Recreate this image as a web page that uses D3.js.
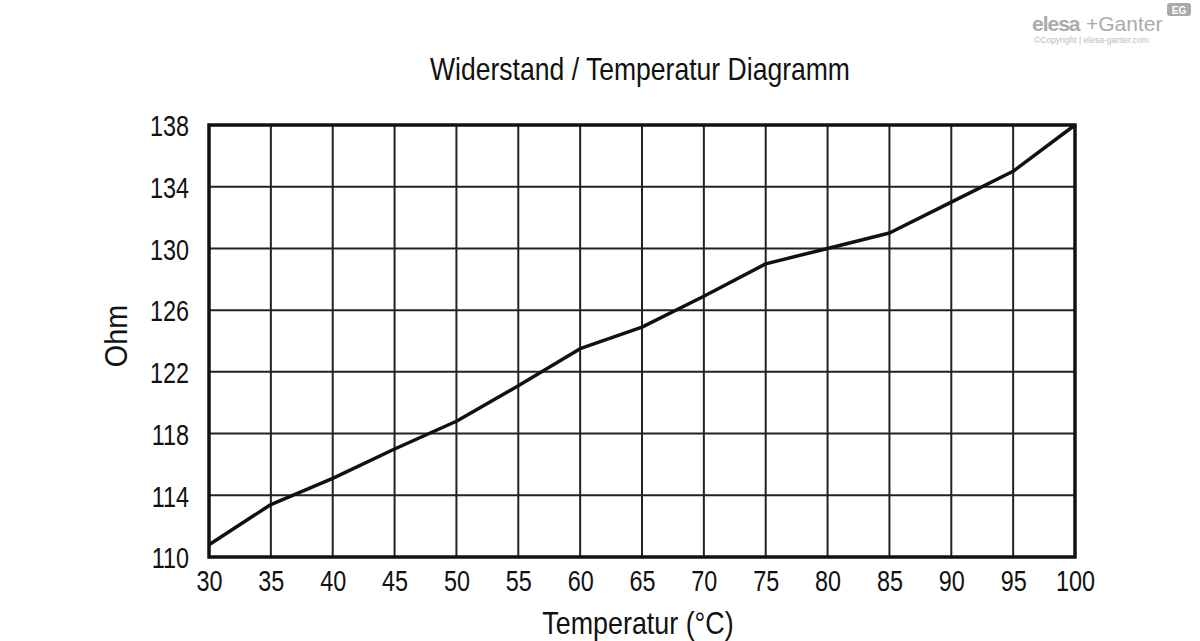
<!DOCTYPE html>
<html><head><meta charset="utf-8">
<script src="https://cdn.jsdelivr.net/npm/d3@7"></script>
<style>body{margin:0;background:#fff}svg{display:block}</style>
</head><body>
<script>
const temps = [30,35,40,45,50,55,60,65,70,75,80,85,90,95,100];
const ohms = [110.8,113.4,115.1,117.0,118.8,121.1,123.5,124.9,126.9,129.0,130.0,131.0,133.0,135.0,138.0];
const xTicks = [30,35,40,45,50,55,60,65,70,75,80,85,90,95,100];
const yTicks = [110,114,118,122,126,130,134,138];
const title = "Widerstand / Temperatur Diagramm";
const xTitle = "Temperatur (°C)";
const yTitle = "Ohm";

const W=1200,H=641;
const F = "'Liberation Sans Narrow','Arial Narrow','Liberation Sans',sans-serif";
const S = 0.78; // horizontal condensing for tick labels
const svg = d3.select("body").append("svg").attr("width",W).attr("height",H);
const x = d3.scaleLinear().domain([30,100]).range([209,1075]);
const y = d3.scaleLinear().domain([110,138]).range([557,125]);

// grid
svg.append("g").selectAll("line").data(xTicks).join("line")
 .attr("x1",d=>x(d)).attr("x2",d=>x(d)).attr("y1",y(138)).attr("y2",y(110))
 .attr("stroke","#222").attr("stroke-width",2);
svg.append("g").selectAll("line").data(yTicks).join("line")
 .attr("y1",d=>y(d)).attr("y2",d=>y(d)).attr("x1",x(30)).attr("x2",x(100))
 .attr("stroke","#222").attr("stroke-width",2);
// frame
svg.append("rect").attr("x",x(30)).attr("y",y(138)).attr("width",x(100)-x(30)).attr("height",y(110)-y(138))
 .attr("fill","none").attr("stroke","#111").attr("stroke-width",3.5);

// axes labels
const xa = svg.append("g").attr("transform",`translate(0,${y(110)})`).call(d3.axisBottom(x).tickValues(xTicks).tickSize(0).tickPadding(0));
xa.select(".domain").remove();
xa.selectAll("text").attr("font-family",F).attr("font-size",30).attr("fill","#111").attr("dy",null).attr("y",34)
  .attr("transform",`scale(${S},1)`);
const ya = svg.append("g").attr("transform",`translate(${x(30)},0)`).call(d3.axisLeft(y).tickValues(yTicks).tickSize(0).tickPadding(0));
ya.select(".domain").remove();
ya.selectAll("text").attr("font-family",F).attr("font-size",30).attr("fill","#111").attr("x",-20/S).attr("dy","0.36em")
  .attr("transform",`scale(${S},1)`);

// line
svg.append("path").datum(temps.map((t,i)=>[t,ohms[i]]))
 .attr("d",d3.line().x(d=>x(d[0])).y(d=>y(d[1])))
 .attr("fill","none").attr("stroke","#111").attr("stroke-width",3.5).attr("stroke-linejoin","round");

svg.append("text").attr("transform","translate(640,80) scale(0.83,1)").attr("text-anchor","middle").attr("font-family",F).attr("font-size",32).attr("fill","#111").text(title);
svg.append("text").attr("transform","translate(638,634) scale(0.84,1)").attr("text-anchor","middle").attr("font-family",F).attr("font-size",32).attr("fill","#111").text(xTitle);
svg.append("text").attr("transform","translate(127,336) rotate(-90) scale(0.9,1)").attr("text-anchor","middle").attr("font-family",F).attr("font-size",32).attr("fill","#111").text(yTitle);

// logo
const lg = svg.append("g").attr("fill","#aaa");
lg.append("text").attr("x",1032).attr("y",31).attr("font-family","'Liberation Sans',sans-serif").attr("font-weight","bold").attr("font-size",21).attr("letter-spacing",-1).text("elesa");
lg.append("text").attr("x",1086).attr("y",31).attr("font-family","'Liberation Sans',sans-serif").attr("font-size",21).text("+Ganter");
lg.append("text").attr("x",1034).attr("y",43).attr("font-family","'Liberation Sans',sans-serif").attr("font-size",8.5).attr("fill","#bbb").text("©Copyright | elesa-ganter.com");
lg.append("rect").attr("x",1167).attr("y",3).attr("width",24).attr("height",13).attr("rx",3);
lg.append("text").attr("x",1179).attr("y",13.5).attr("text-anchor","middle").attr("fill","#fff").attr("font-family","'Liberation Sans',sans-serif").attr("font-weight","bold").attr("font-size",10).text("EG");
</script>
</body></html>
